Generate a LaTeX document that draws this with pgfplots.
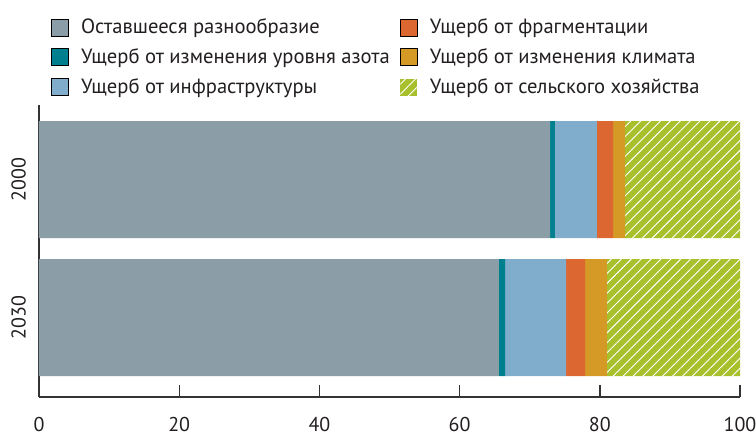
\documentclass[border=0pt]{standalone}
\usepackage{pgfplots}
\pgfplotsset{compat=1.18}
\usepackage{fontspec}
\setmainfont{PT Sans}
\usetikzlibrary{patterns.meta}
\definecolor{cgrey}{HTML}{8B9EA7}
\definecolor{cteal}{HTML}{00808F}
\definecolor{cblue}{HTML}{7FADCB}
\definecolor{corange}{HTML}{DC6731}
\definecolor{cgold}{HTML}{D59A25}
\definecolor{cgreen}{HTML}{A9C02D}
\definecolor{axcol}{HTML}{333333}
\definecolor{txt}{HTML}{231F20}
\tikzset{hatchgreen/.style={fill=cgreen, draw=none, postaction={pattern={Lines[angle=45,distance=7pt,line width=0.9pt]}, pattern color=white}}}
\begin{document}
\begin{tikzpicture}
\useasboundingbox (-39pt,-38pt) rectangle (717pt,397pt);
\begin{axis}[
  scale only axis,
  width=701pt, height=292pt,
  xbar stacked,
  bar width=117pt,
  xmin=0, xmax=100,
  ymin=-0.576, ymax=1.54,
  axis x line=bottom,
  axis y line=left,
  axis line style={-, axcol, line width=1.4pt},
  xtick={0,20,40,60,80,100},
  tick align=inside,
  major tick length=12pt,
  xtick style={axcol, line width=1.4pt},
  ytick={0,1},
  yticklabels={2030,2000},
  ytick style={draw=none},
  /pgf/number format/assume math mode=true,
  tick label style={font=\fontsize{20}{24}\selectfont, text=txt},
  xticklabel style={anchor=north, inner sep=0pt, yshift=-20pt},
  yticklabel style={xshift=-13pt, rotate=90, anchor=south, inner sep=0pt},
  legend columns=2,
  legend cell align=left,
  legend image code/.code={\fill[#1] (0pt,-8.5pt) rectangle (16.5pt,8.5pt);},
  legend style={at={(0.0171,1.302)}, anchor=north west, draw=none, fill=none, inner sep=0pt,
    font=\fontsize{20.6}{24}\selectfont, text=txt, row sep=9.5pt,
    /tikz/every odd column/.append style={column sep=11pt}},
]
\addplot[fill=cgrey, draw=none, forget plot] coordinates {(72.9,1) (65.6,0)};
\addplot[fill=cteal, draw=none, forget plot] coordinates {(0.7,1) (0.9,0)};
\addplot[fill=cblue, draw=none, forget plot] coordinates {(6.0,1) (8.7,0)};
\addplot[fill=corange, draw=none, forget plot] coordinates {(2.3,1) (2.7,0)};
\addplot[fill=cgold, draw=none, forget plot] coordinates {(1.7,1) (3.1,0)};
\addplot[hatchgreen, forget plot] coordinates {(16.4,1) (19.0,0)};
\addlegendimage{fill=cgrey}
\addlegendentry{\makebox[317pt][l]{Оставшееся разнообразие}}
\addlegendimage{fill=corange}
\addlegendentry{Ущерб от фрагментации}
\addlegendimage{fill=cteal}
\addlegendentry{\makebox[317pt][l]{Ущерб от изменения уровня азота}}
\addlegendimage{fill=cgold}
\addlegendentry{Ущерб от изменения климата}
\addlegendimage{fill=cblue}
\addlegendentry{\makebox[317pt][l]{Ущерб от инфраструктуры}}
\addlegendimage{hatchgreen}
\addlegendentry{Ущерб от сельского хозяйства}
\end{axis}
\end{tikzpicture}
\end{document}
